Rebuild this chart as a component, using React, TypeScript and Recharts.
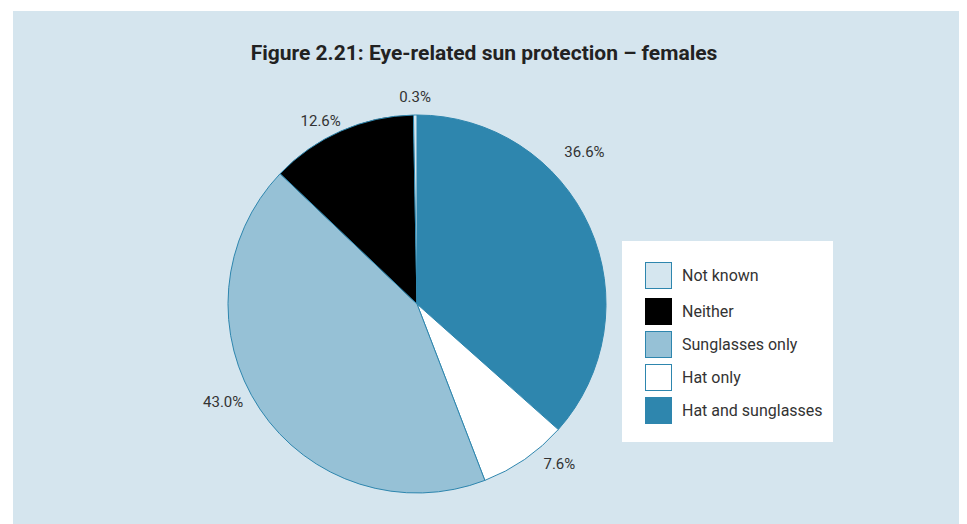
import React from 'react';
import { PieChart, Pie, Cell, Legend } from 'recharts';

// categories, clockwise from 12 o'clock
const categories = ['Hat and sunglasses', 'Hat only', 'Sunglasses only', 'Neither', 'Not known'];
const shares = [36.6, 7.6, 43.0, 12.6, 0.3];
const legendOrder = ['Not known', 'Neither', 'Sunglasses only', 'Hat only', 'Hat and sunglasses'];

const COLORS: Record<string, string> = {
  'Hat and sunglasses': '#2e86ae',
  'Hat only': '#ffffff',
  'Sunglasses only': '#96c1d6',
  Neither: '#000000',
  'Not known': '#d5e6ef',
};

// label placement tweaks (angle shift in degrees, extra radius)
const LABEL_NUDGE: Record<string, [number, number]> = {
  'Hat and sunglasses': [18, 37],
  'Hat only': [7, 25],
  'Sunglasses only': [-7, 28],
  Neither: [4, 18],
  'Not known': [0, 18],
};

const data = categories.map((name, i) => ({ name, value: shares[i] }));

const FONT = 'Roboto, "DejaVu Sans Condensed", Arial, sans-serif';
const RAD = Math.PI / 180;

const renderLabel = (props: any) => {
  const { cx, cy, midAngle, outerRadius, name, value } = props;
  const [shift, extra] = LABEL_NUDGE[name] || [0, 20];
  const a = (midAngle + shift) * RAD;
  const r = outerRadius + extra;
  const x = cx + r * Math.cos(-a);
  const y = cy + r * Math.sin(-a);
  return (
    <text x={x} y={y} textAnchor="middle" dominantBaseline="central" fill="#333" fontSize={15} fontFamily={FONT}>
      {value.toFixed(1)}%
    </text>
  );
};

const LegendBox = () => (
  <div style={{ background: '#fff', width: 211, height: 201, boxSizing: 'border-box', padding: '18px 0 0 23px', fontFamily: FONT }}>
    {legendOrder.map((name, i) => (
      <div key={name} style={{ display: 'flex', alignItems: 'center', height: 33, marginTop: i === 1 ? 3 : 0 }}>
        <div
          style={{
            width: 27,
            height: 27,
            boxSizing: 'border-box',
            background: COLORS[name],
            border: name === 'Neither' ? 'none' : '1px solid #2e86ae',
            marginRight: 10,
          }}
        />
        <span style={{ fontSize: 16, color: '#333' }}>{name}</span>
      </div>
    ))}
  </div>
);

export default function App() {
  return (
    <div style={{ position: 'relative', marginLeft: 5, marginTop: 3, width: 946, height: 513, background: '#d5e5ee' }}>
      <div
        style={{
          position: 'absolute',
          top: 30,
          left: 0,
          width: 942,
          textAlign: 'center',
          fontFamily: FONT,
          fontWeight: 'bold',
          fontSize: 21,
          color: '#222',
        }}
      >
        Figure 2.21: Eye-related sun protection – females
      </div>
      <PieChart width={946} height={513} margin={{ top: 0, right: 0, bottom: 0, left: 0 }}>
        <Pie
          data={data}
          dataKey="value"
          nameKey="name"
          cx={404}
          cy={293}
          outerRadius={189}
          startAngle={90}
          endAngle={-270}
          stroke="#2e86ae"
          strokeWidth={1}
          label={renderLabel}
          labelLine={false}
          isAnimationActive={false}
        >
          {data.map((entry) => (
            <Cell key={entry.name} fill={COLORS[entry.name]} />
          ))}
        </Pie>
        <Legend
          layout="vertical"
          align="right"
          verticalAlign="top"
          content={() => <LegendBox />}
          wrapperStyle={{ left: 609, top: 230, width: 211 }}
        />
      </PieChart>
    </div>
  );
}
